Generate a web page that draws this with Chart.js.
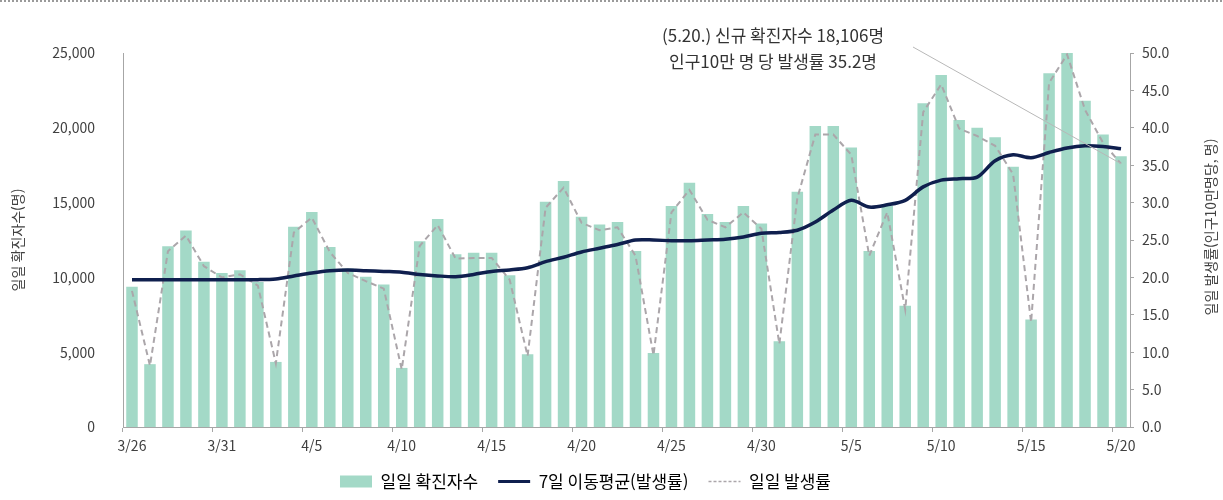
<!DOCTYPE html>
<html lang="ko">
<head>
<meta charset="utf-8">
<script src="https://cdn.jsdelivr.net/npm/chart.js@4/dist/chart.umd.min.js"></script>
<style>
  html, body { margin: 0; padding: 0; background: #fff; }
  #wrap { position: relative; width: 1223px; height: 500px; }
</style>
</head>
<body>
<div id="wrap"><canvas id="chart"></canvas></div>
<script>
"use strict";

const labels = ["3/26","3/27","3/28","3/29","3/30","3/31","4/1","4/2","4/3","4/4",
  "4/5","4/6","4/7","4/8","4/9","4/10","4/11","4/12","4/13","4/14",
  "4/15","4/16","4/17","4/18","4/19","4/20","4/21","4/22","4/23","4/24",
  "4/25","4/26","4/27","4/28","4/29","4/30","5/1","5/2","5/3","5/4",
  "5/5","5/6","5/7","5/8","5/9","5/10","5/11","5/12","5/13","5/14",
  "5/15","5/16","5/17","5/18","5/19","5/20"];

// 일일 확진자수 (명)
const cases = [9370, 4200, 12090, 13140, 11040, 10300, 10480, 9700, 4350, 13380,
  14380, 12040, 10600, 10040, 9530, 3950, 12420, 13900, 11550, 11640,
  11640, 10150, 4860, 15050, 16440, 14050, 13540, 13710, 11770, 4950,
  14770, 16320, 14230, 13710, 14770, 13610, 5730, 15720, 20120, 20120,
  18690, 11770, 14770, 8100, 21640, 23530, 20520, 20000, 19360, 17390,
  7190, 23640, 25600, 21810, 19560, 18106];

// 일일 발생률 (인구10만명당)
const rates = [18.2, 8.2, 23.5, 25.6, 21.5, 20.0, 20.4, 18.9, 8.5, 26.0,
  28.0, 23.4, 20.6, 19.5, 18.5, 7.7, 24.2, 27.0, 22.5, 22.6,
  22.6, 19.7, 9.5, 29.3, 32.0, 27.3, 26.3, 26.7, 22.9, 9.6,
  28.7, 31.7, 27.7, 26.7, 28.7, 26.5, 11.1, 30.6, 39.1, 39.1,
  36.4, 22.9, 28.7, 15.7, 42.1, 45.8, 39.9, 38.9, 37.6, 33.8,
  14.0, 46.0, 49.8, 42.4, 38.0, 35.2];

// 7일 이동평균(발생률)
const avg7 = [19.7, 19.7, 19.7, 19.7, 19.7, 19.7, 19.7, 19.7, 19.8, 20.2,
  20.6, 20.9, 21.0, 20.9, 20.8, 20.7, 20.4, 20.2, 20.1, 20.4,
  20.8, 21.0, 21.3, 22.1, 22.7, 23.4, 23.9, 24.4, 25.0, 25.0,
  24.9, 24.9, 25.0, 25.1, 25.4, 25.9, 26.0, 26.3, 27.4, 29.0,
  30.3, 29.4, 29.7, 30.3, 32.1, 33.0, 33.2, 33.4, 35.6, 36.4,
  36.0, 36.7, 37.3, 37.6, 37.5, 37.2];

const leftTicks = [0, 5000, 10000, 15000, 20000, 25000];
const rightTicks = [0, 5, 10, 15, 20, 25, 30, 35, 40, 45, 50];

const seriesNames = ["일일 확진자수", "7일 이동평균(발생률)", "일일 발생률"];
const axisTitles = ["일일 확진자수(명)", "일일 발생률(인구10만명당, 명)"];
const noteLines = ["(5.20.) 신규 확진자수 18,106명", "인구10만 명 당 발생률 35.2명"];

const FONT = "'Noto Sans CJK KR', 'Noto Sans', sans-serif";
const TEXT = "#404040";
const AXIS = "#a6a6a6";
const BAR = "#a3d9c7";
const NAVY = "#0f1f4e";
const DASH = "#aba6aa";

Chart.defaults.font.family = FONT;
Chart.defaults.color = TEXT;

const extras = {
  id: "extras",
  afterDraw(chart) {
    const ctx = chart.ctx;
    const area = chart.chartArea;
    ctx.save();

    // dotted frame line at the top
    ctx.strokeStyle = "#9a9a9a";
    ctx.lineWidth = 2;
    ctx.setLineDash([2, 2]);
    ctx.beginPath();
    ctx.moveTo(0, 1);
    ctx.lineTo(chart.width, 1);
    ctx.stroke();
    ctx.setLineDash([]);

    // axis titles, both read bottom to top
    const midY = (area.top + area.bottom) / 2;
    ctx.fillStyle = TEXT;
    ctx.font = "14px " + FONT;
    ctx.textAlign = "center";
    ctx.textBaseline = "middle";
    ctx.save();
    ctx.translate(18, midY);
    ctx.rotate(-Math.PI / 2);
    ctx.fillText(axisTitles[0], 0, 0);
    ctx.restore();
    ctx.save();
    ctx.translate(area.right + 81, midY - 13);
    ctx.rotate(-Math.PI / 2);
    ctx.fillText(axisTitles[1], 0, 0);
    ctx.restore();

    // note with leader line to the last point
    const last = labels.length - 1;
    const px = chart.scales.x.getPixelForValue(last);
    const py = chart.scales.y1.getPixelForValue(rates[last]);
    ctx.strokeStyle = "#b8b8b8";
    ctx.lineWidth = 1;
    ctx.beginPath();
    ctx.moveTo(913, 47);
    ctx.lineTo(px, py);
    ctx.stroke();

    ctx.fillStyle = "#333";
    ctx.font = "17px " + FONT;
    ctx.fillText(noteLines[0], 773, 36);
    ctx.fillText(noteLines[1], 773, 62);
    ctx.restore();
  }
};

new Chart("chart", {
  type: "bar",
  data: {
    labels: labels,
    datasets: [{
      type: "bar",
      label: seriesNames[0],
      data: cases,
      backgroundColor: BAR,
      yAxisID: "y",
      barPercentage: 0.64,
      categoryPercentage: 1,
      order: 3
    }, {
      type: "line",
      label: seriesNames[1],
      data: avg7,
      borderColor: NAVY,
      borderWidth: 3.5,
      pointRadius: 0,
      tension: 0.3,
      yAxisID: "y1",
      order: 1
    }, {
      type: "line",
      label: seriesNames[2],
      data: rates,
      borderColor: DASH,
      borderWidth: 2,
      borderDash: [6, 4],
      pointRadius: 0,
      tension: 0,
      yAxisID: "y1",
      order: 2
    }]
  },
  options: {
    responsive: true,
    maintainAspectRatio: false,
    devicePixelRatio: 1,
    animation: false,
    // right padding shifts the legend centre left, as in the original
    layout: { padding: { top: 53, left: 0, right: 52, bottom: 0 } },
    plugins: {
      tooltip: { enabled: false },
      legend: {
        position: "bottom",
        labels: {
          usePointStyle: true,
          pointStyleWidth: 32,
          boxHeight: 12,
          padding: 20,
          color: TEXT,
          font: { size: 17 },
          generateLabels() {
            return [
              { text: seriesNames[0], fillStyle: BAR, strokeStyle: BAR, lineWidth: 0, pointStyle: "rect", datasetIndex: 0, hidden: false },
              { text: seriesNames[1], fillStyle: NAVY, strokeStyle: NAVY, lineWidth: 3, pointStyle: "line", datasetIndex: 1, hidden: false },
              { text: seriesNames[2], fillStyle: DASH, strokeStyle: DASH, lineWidth: 1.5, lineDash: [3, 2], pointStyle: "line", datasetIndex: 2, hidden: false }
            ];
          }
        }
      }
    },
    scales: {
      x: {
        offset: true,
        grid: {
          display: true,
          drawOnChartArea: false,
          offset: true,
          tickLength: 5,
          color: (c) => (c.index % 5 === 0 ? AXIS : "rgba(0,0,0,0)")
        },
        border: { display: true, color: AXIS },
        ticks: {
          autoSkip: false,
          maxRotation: 0,
          padding: 5,
          font: { size: 14 },
          callback: (v, i) => (i % 5 === 0 ? labels[i] : "")
        },
        afterFit(scale) {
          scale.height = scale.chart.height - 427 - scale.chart.legend.height;
        }
      },
      y: {
        position: "left",
        min: leftTicks[0],
        max: leftTicks[leftTicks.length - 1],
        grid: { display: false },
        border: { display: true, color: AXIS },
        ticks: {
          stepSize: leftTicks[1] - leftTicks[0],
          padding: 20,
          font: { size: 14 },
          callback: (v) => v.toLocaleString("en-US")
        },
        afterFit(scale) { scale.width = 123; }
      },
      y1: {
        position: "right",
        min: rightTicks[0],
        max: rightTicks[rightTicks.length - 1],
        grid: { display: true, drawOnChartArea: false, tickLength: 4, color: AXIS },
        border: { display: true, color: AXIS },
        ticks: {
          stepSize: rightTicks[1] - rightTicks[0],
          padding: 8,
          font: { size: 14 },
          callback: (v) => v.toFixed(1)
        },
        afterFit(scale) { scale.width = 41; }
      }
    }
  },
  plugins: [extras]
});
</script>
</body>
</html>
